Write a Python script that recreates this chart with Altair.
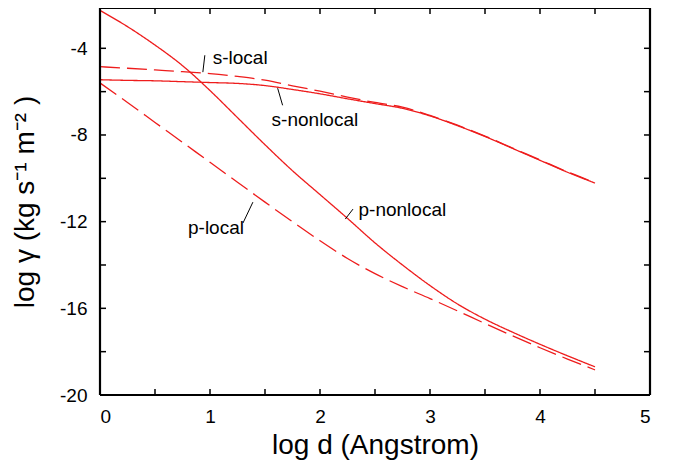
import altair as alt
import pandas as pd

RED = "#ee1c1c"
FONT = "Liberation Sans"
W, H = 550, 387

# common sampling of log d
x_grid = [0.0, 0.25, 0.5, 0.75, 1.0, 1.25, 1.5, 1.75, 2.0, 2.25, 2.5, 2.75,
          3.0, 3.25, 3.5, 3.75, 4.0, 4.25, 4.5]

p_nonlocal = [-2.25, -3.0, -3.85, -4.8, -5.95, -7.2, -8.45, -9.65, -10.75, -11.85,
              -12.98, -14.0, -14.95, -15.8, -16.5, -17.1, -17.66, -18.19, -18.7]
p_local = [-5.6, -6.5, -7.42, -8.34, -9.26, -10.18, -11.1, -12.0, -12.88, -13.7,
           -14.4, -15.0, -15.55, -16.12, -16.7, -17.27, -17.82, -18.34, -18.84]
s_local = [-4.85, -4.92, -5.0, -5.08, -5.17, -5.3, -5.47, -5.73, -5.98, -6.25,
           -6.5, -6.72, -7.1, -7.55, -8.05, -8.6, -9.15, -9.7, -10.2]
s_nonlocal = [-5.45, -5.48, -5.5, -5.54, -5.58, -5.62, -5.72, -5.9, -6.1, -6.33,
              -6.55, -6.77, -7.12, -7.57, -8.07, -8.62, -9.17, -9.72, -10.22]

series_names = ["p-nonlocal", "p-local", "s-local", "s-nonlocal"]
series_values = [p_nonlocal, p_local, s_local, s_nonlocal]
series_dash = [[1, 0], [20, 7], [20, 7], [1, 0]]

# annotation labels and leader lines
label_text = ["s-local", "s-nonlocal", "p-local", "p-nonlocal"]
label_x = [1.025, 1.56, 0.80, 2.35]
label_y = [-4.46, -7.32, -12.29, -11.47]
leader_x1 = [0.953, 1.615, 1.30, 2.30]
leader_y1 = [-4.32, -5.84, -12.06, -11.42]
leader_x2 = [0.935, 1.66, 1.39, 2.23]
leader_y2 = [-5.1, -6.63, -11.1, -11.88]

x_ticks = [0, 0.5, 1, 1.5, 2, 2.5, 3, 3.5, 4, 4.5, 5]
y_ticks = [-20, -18, -16, -14, -12, -10, -8, -6, -4]
x_labels = [0, 1, 2, 3, 4, 5]
y_labels = [-20, -16, -12, -8, -4]

rows = []
for name, vals in zip(series_names, series_values):
    for xv, yv in zip(x_grid, vals):
        rows.append({"series": name, "x": xv, "y": yv})
df = pd.DataFrame(rows)

ann = pd.DataFrame({"text": label_text, "x": label_x, "y": label_y})
lead = pd.DataFrame({"x1": leader_x1, "y1": leader_y1, "x2": leader_x2, "y2": leader_y2})
xt = pd.DataFrame({"t": x_ticks})
yt = pd.DataFrame({"t": y_ticks})
one = pd.DataFrame({"a": [0]})

xs = alt.Scale(domain=[0, 5], nice=False, zero=False)
ys = alt.Scale(domain=[-20, -2.14], nice=False, zero=False)

minus_expr = "(datum.value < 0 ? '-' : '') + abs(datum.value)"

x_bottom = alt.Axis(
    orient="bottom", values=x_labels, domain=False, grid=False, ticks=False,
    labelExpr=minus_expr,
    labelFont=FONT, labelFontSize=19, labelColor="black", labelPadding=12,
    title="log d (Angstrom)", titleFont=FONT, titleFontSize=28,
    titleFontWeight="normal", titleColor="black", titlePadding=5,
)
y_left = alt.Axis(
    orient="left", values=y_labels, domain=False, grid=False, ticks=False,
    labelExpr=minus_expr,
    labelFont=FONT, labelFontSize=19, labelColor="black", labelPadding=13,
    title="log \u03b3 (kg s\u207b\u00b9 m\u207b\u00b2 )", titleFont=FONT, titleFontSize=28,
    titleFontWeight="normal", titleColor="black", titlePadding=20,
)

lines = alt.Chart(df).mark_line(strokeWidth=1.3, color=RED, clip=True, interpolate="monotone").encode(
    x=alt.X("x:Q", scale=xs, axis=x_bottom),
    y=alt.Y("y:Q", scale=ys, axis=y_left),
    detail="series:N",
    order="x:Q",
    strokeDash=alt.StrokeDash("series:N", scale=alt.Scale(domain=series_names, range=series_dash), legend=None),
)

leaders = alt.Chart(lead).mark_rule(color="black", strokeWidth=1).encode(
    x=alt.X("x1:Q", scale=xs, axis=None),
    y=alt.Y("y1:Q", scale=ys, axis=None),
    x2="x2:Q",
    y2="y2:Q",
)

texts = alt.Chart(ann).mark_text(align="left", baseline="middle", font=FONT, fontSize=19, color="black").encode(
    x=alt.X("x:Q", scale=xs, axis=None),
    y=alt.Y("y:Q", scale=ys, axis=None),
    text="text:N",
)

TICK = 6
tick_style = dict(color="black", strokeWidth=1.5)
xticks_bottom = alt.Chart(xt).mark_rule(**tick_style).encode(
    x=alt.X("t:Q", scale=xs, axis=None), y=alt.value(H), y2=alt.value(H - TICK))
xticks_top = alt.Chart(xt).mark_rule(**tick_style).encode(
    x=alt.X("t:Q", scale=xs, axis=None), y=alt.value(0), y2=alt.value(TICK))
yticks_left = alt.Chart(yt).mark_rule(**tick_style).encode(
    y=alt.Y("t:Q", scale=ys, axis=None), x=alt.value(0), x2=alt.value(TICK))
yticks_right = alt.Chart(yt).mark_rule(**tick_style).encode(
    y=alt.Y("t:Q", scale=ys, axis=None), x=alt.value(W), x2=alt.value(W - TICK))

frame_style = dict(color="black", strokeWidth=2.2)
frame_top = alt.Chart(one).mark_rule(**frame_style).encode(x=alt.value(0), x2=alt.value(W), y=alt.value(0))
frame_bottom = alt.Chart(one).mark_rule(**frame_style).encode(x=alt.value(0), x2=alt.value(W), y=alt.value(H))
frame_left = alt.Chart(one).mark_rule(**frame_style).encode(y=alt.value(0), y2=alt.value(H), x=alt.value(0))
frame_right = alt.Chart(one).mark_rule(**frame_style).encode(y=alt.value(0), y2=alt.value(H), x=alt.value(W))

chart = alt.layer(
    lines, leaders, texts,
    xticks_bottom, xticks_top, yticks_left, yticks_right,
    frame_top, frame_bottom, frame_left, frame_right,
).resolve_axis(
    x="independent", y="independent"
).properties(
    width=W, height=H,
    autosize=alt.AutoSizeParams(type="none"),
    padding={"left": 92, "top": 0, "right": 15, "bottom": 66},
    background="white",
).configure_view(strokeWidth=0)

chart.save("out.html", embed_options={"renderer": "svg", "actions": False})
